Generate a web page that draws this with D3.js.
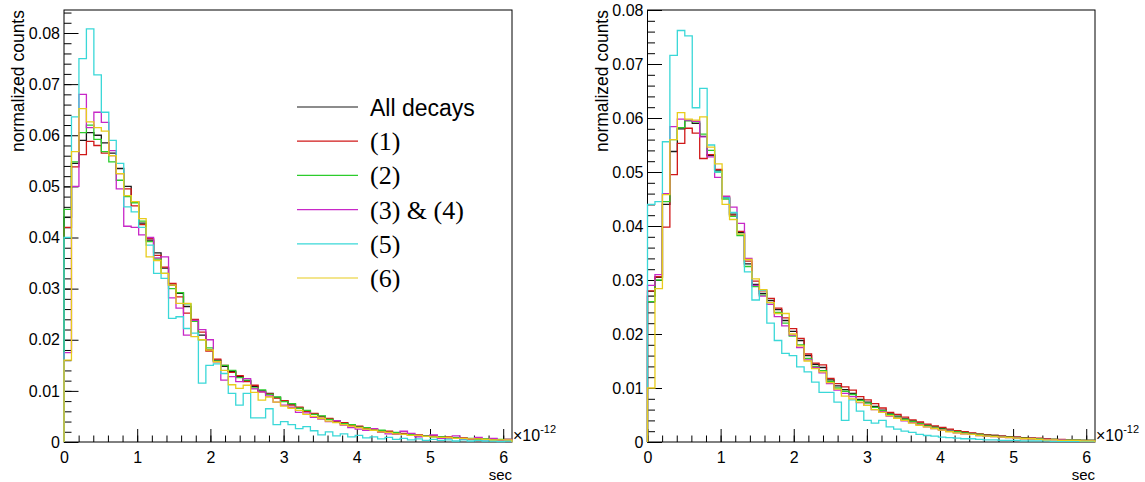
<!DOCTYPE html>
<html>
<head>
<meta charset="utf-8">
<script src="https://cdn.jsdelivr.net/npm/d3@7/dist/d3.min.js"></script>
<style>
  body { margin: 0; background: #fff; }
  svg { display: block; font-family: "Liberation Sans", Arial, sans-serif; }
</style>
</head>
<body>
<div id="chart"></div>
<script>
// 60 bins of 0.102e-12 s, from 0 to 6.12e-12 s
const nBins = 60;
const xMax = 6.12;

const seriesNames = ['All decays', '(1)', '(2)', '(3) & (4)', '(5)', '(6)'];
const seriesColors = ['#1a1a1a', '#d01818', '#2ccc2c', '#c828c8', '#3ad8d8', '#e8cc1c'];

const xTickLabels = [0, 1, 2, 3, 4, 5, 6];
const leftYTicks = [0, 0.01, 0.02, 0.03, 0.04, 0.05, 0.06, 0.07, 0.08];
const rightYTicks = [0, 0.01, 0.02, 0.03, 0.04, 0.05, 0.06, 0.07, 0.08];

// left panel
const leftAll = [0.0440,0.0545,0.0590,0.0605,0.0600,0.0585,0.0565,0.0535,0.0500,0.0470,
  0.0428,0.0395,0.0370,0.0340,0.0307,0.0291,0.0265,0.0238,0.0209,0.0180,
  0.0160,0.0148,0.0138,0.0128,0.0120,0.0109,0.0100,0.0095,0.0087,0.0080,
  0.0074,0.0067,0.0061,0.0055,0.0050,0.0045,0.0041,0.0037,0.0033,0.0030,
  0.0027,0.0024,0.0022,0.0020,0.0018,0.0016,0.0014,0.0013,0.0012,0.0011,
  0.0010,0.0009,0.0008,0.0007,0.0006,0.0006,0.0005,0.0005,0.0004,0.0004];
const left1 = [0.0420,0.0538,0.0562,0.0588,0.0580,0.0565,0.0560,0.0525,0.0495,0.0462,
  0.0425,0.0398,0.0365,0.0342,0.0310,0.0284,0.0252,0.0240,0.0215,0.0178,
  0.0162,0.0150,0.0136,0.0130,0.0118,0.0111,0.0098,0.0094,0.0086,0.0081,
  0.0072,0.0068,0.0060,0.0056,0.0049,0.0046,0.0040,0.0038,0.0032,0.0031,
  0.0026,0.0025,0.0021,0.0021,0.0017,0.0017,0.0013,0.0014,0.0011,0.0012,
  0.0009,0.0010,0.0007,0.0008,0.0006,0.0007,0.0005,0.0005,0.0004,0.0005];
const left2 = [0.0455,0.0548,0.0605,0.0620,0.0592,0.0568,0.0548,0.0512,0.0480,0.0468,
  0.0432,0.0392,0.0358,0.0330,0.0300,0.0292,0.0270,0.0236,0.0200,0.0184,
  0.0158,0.0150,0.0140,0.0126,0.0121,0.0106,0.0102,0.0093,0.0088,0.0079,
  0.0075,0.0066,0.0062,0.0054,0.0051,0.0044,0.0042,0.0036,0.0034,0.0029,
  0.0028,0.0023,0.0023,0.0019,0.0019,0.0015,0.0015,0.0012,0.0012,0.0010,
  0.0010,0.0008,0.0008,0.0006,0.0007,0.0005,0.0006,0.0004,0.0005,0.0005];
const left34 = [0.0175,0.0500,0.0680,0.0615,0.0645,0.0625,0.0570,0.0495,0.0422,0.0420,
  0.0405,0.0400,0.0360,0.0362,0.0282,0.0262,0.0209,0.0238,0.0220,0.0200,
  0.0157,0.0121,0.0128,0.0118,0.0124,0.0104,0.0098,0.0090,0.0078,0.0072,
  0.0068,0.0058,0.0057,0.0048,0.0045,0.0040,0.0042,0.0033,0.0028,0.0025,
  0.0023,0.0026,0.0019,0.0016,0.0015,0.0021,0.0017,0.0010,0.0011,0.0014,
  0.0007,0.0008,0.0012,0.0005,0.0006,0.0009,0.0004,0.0007,0.0003,0.0005];
const left5 = [0.0400,0.0636,0.0750,0.0808,0.0718,0.0645,0.0590,0.0545,0.0460,0.0450,
  0.0420,0.0385,0.0330,0.0320,0.0242,0.0245,0.0222,0.0213,0.0115,0.0150,
  0.0153,0.0134,0.0095,0.0072,0.0095,0.0047,0.0047,0.0065,0.0034,0.0040,
  0.0034,0.0026,0.0030,0.0022,0.0014,0.0020,0.0012,0.0016,0.0010,0.0013,
  0.0008,0.0010,0.0006,0.0009,0.0005,0.0007,0.0004,0.0006,0.0003,0.0005,
  0.0003,0.0004,0.0002,0.0004,0.0002,0.0003,0.0002,0.0002,0.0001,0.0002];
const left6 = [0.0160,0.0568,0.0652,0.0626,0.0615,0.0608,0.0560,0.0525,0.0482,0.0470,
  0.0437,0.0362,0.0355,0.0330,0.0307,0.0271,0.0271,0.0206,0.0200,0.0180,
  0.0157,0.0140,0.0112,0.0105,0.0111,0.0097,0.0082,0.0088,0.0078,0.0070,
  0.0066,0.0062,0.0054,0.0050,0.0046,0.0041,0.0038,0.0034,0.0031,0.0028,
  0.0025,0.0023,0.0020,0.0019,0.0016,0.0015,0.0013,0.0013,0.0011,0.0010,
  0.0009,0.0009,0.0007,0.0007,0.0006,0.0006,0.0005,0.0004,0.0004,0.0004];

// right panel
const rightAll = [0.0270,0.0305,0.0440,0.0538,0.0580,0.0595,0.0590,0.0566,0.0531,0.0502,
  0.0452,0.0422,0.0388,0.0330,0.0292,0.0275,0.0262,0.0245,0.0225,0.0205,
  0.0188,0.0160,0.0144,0.0138,0.0115,0.0104,0.0097,0.0090,0.0079,0.0074,
  0.0066,0.0059,0.0052,0.0048,0.0043,0.0039,0.0035,0.0031,0.0028,0.0025,
  0.0022,0.0020,0.0018,0.0016,0.0014,0.0013,0.0012,0.0011,0.0010,0.0009,
  0.0008,0.0007,0.0006,0.0006,0.0005,0.0004,0.0004,0.0003,0.0003,0.0003];
const right1 = [0.0280,0.0306,0.0398,0.0495,0.0553,0.0581,0.0572,0.0525,0.0532,0.0505,
  0.0455,0.0420,0.0390,0.0335,0.0298,0.0280,0.0266,0.0248,0.0230,0.0210,
  0.0192,0.0163,0.0146,0.0143,0.0118,0.0108,0.0102,0.0096,0.0084,0.0078,
  0.0071,0.0063,0.0055,0.0051,0.0046,0.0041,0.0037,0.0033,0.0030,0.0027,
  0.0024,0.0021,0.0019,0.0017,0.0015,0.0013,0.0012,0.0011,0.0010,0.0009,
  0.0008,0.0007,0.0007,0.0006,0.0005,0.0005,0.0004,0.0004,0.0003,0.0003];
const right2 = [0.0260,0.0300,0.0445,0.0560,0.0582,0.0595,0.0593,0.0570,0.0540,0.0500,
  0.0450,0.0418,0.0382,0.0325,0.0288,0.0272,0.0258,0.0240,0.0220,0.0196,
  0.0180,0.0155,0.0140,0.0132,0.0112,0.0100,0.0094,0.0088,0.0077,0.0072,
  0.0064,0.0058,0.0051,0.0046,0.0042,0.0038,0.0034,0.0030,0.0027,0.0024,
  0.0021,0.0019,0.0017,0.0015,0.0014,0.0012,0.0011,0.0010,0.0009,0.0008,
  0.0007,0.0006,0.0006,0.0005,0.0005,0.0004,0.0004,0.0004,0.0003,0.0003];
const right34 = [0.0290,0.0310,0.0460,0.0584,0.0598,0.0596,0.0594,0.0565,0.0528,0.0490,
  0.0455,0.0435,0.0405,0.0340,0.0290,0.0270,0.0255,0.0232,0.0215,0.0198,
  0.0175,0.0152,0.0138,0.0128,0.0108,0.0096,0.0090,0.0084,0.0073,0.0068,
  0.0060,0.0056,0.0048,0.0044,0.0039,0.0036,0.0032,0.0028,0.0025,0.0022,
  0.0020,0.0017,0.0015,0.0014,0.0012,0.0011,0.0010,0.0009,0.0008,0.0007,
  0.0006,0.0006,0.0005,0.0005,0.0004,0.0004,0.0003,0.0003,0.0002,0.0002];
const right5 = [0.0440,0.0445,0.0556,0.0716,0.0762,0.0752,0.0619,0.0655,0.0550,0.0500,
  0.0452,0.0425,0.0385,0.0315,0.0263,0.0281,0.0220,0.0188,0.0164,0.0160,
  0.0139,0.0130,0.0111,0.0092,0.0092,0.0074,0.0040,0.0078,0.0057,0.0040,
  0.0035,0.0040,0.0028,0.0024,0.0020,0.0018,0.0014,0.0012,0.0011,0.0009,
  0.0008,0.0007,0.0006,0.0006,0.0005,0.0004,0.0004,0.0003,0.0003,0.0003,
  0.0002,0.0002,0.0002,0.0002,0.0001,0.0001,0.0001,0.0001,0.0001,0.0001];
const right6 = [0.0100,0.0284,0.0458,0.0560,0.0610,0.0598,0.0596,0.0602,0.0546,0.0515,
  0.0440,0.0412,0.0385,0.0338,0.0302,0.0282,0.0258,0.0238,0.0238,0.0200,
  0.0178,0.0150,0.0136,0.0130,0.0110,0.0098,0.0085,0.0080,0.0074,0.0068,
  0.0060,0.0055,0.0049,0.0044,0.0040,0.0035,0.0031,0.0028,0.0025,0.0022,
  0.0019,0.0017,0.0015,0.0014,0.0012,0.0011,0.0010,0.0009,0.0008,0.0007,
  0.0006,0.0006,0.0005,0.0004,0.0004,0.0003,0.0003,0.0003,0.0002,0.0002];

const svg = d3.select('#chart').append('svg')
    .attr('width', 1145)
    .attr('height', 482);

class HistPanel {
    constructor(_config, _series) {
        this.config = {
            left: _config.left,
            top: _config.top || 10,
            width: _config.width || 448,
            height: _config.height || 432,
            yMax: _config.yMax,
            yTicks: _config.yTicks,
            legend: _config.legend || false
        };
        this.series = _series;
        this.initVis();
    }

    initVis() {
        let vis = this;
        const c = vis.config;

        vis.chart = svg.append('g')
            .attr('transform', `translate(${c.left},${c.top})`);

        vis.xScale = d3.scaleLinear().domain([0, xMax]).range([0, c.width]);
        vis.yScale = d3.scaleLinear().domain([0, c.yMax]).range([c.height, 0]);

        // minor ticks first, majors with labels on top
        const xMinor = d3.axisBottom(vis.xScale)
            .tickValues(d3.range(0, xMax, 0.2))
            .tickSize(-6.5).tickFormat('');
        const xMajor = d3.axisBottom(vis.xScale)
            .tickValues(xTickLabels)
            .tickSize(-13).tickPadding(9.5)
            .tickFormat(d3.format('d'));
        const yMinor = d3.axisLeft(vis.yScale)
            .tickValues(d3.range(0, c.yMax + 1e-9, 0.002))
            .tickSize(-7.5).tickFormat('');
        const yMajor = d3.axisLeft(vis.yScale)
            .tickValues(c.yTicks)
            .tickSize(-14.5).tickPadding(4)
            .tickFormat(d => d === 0 ? '0' : d.toFixed(2));

        [xMinor, xMajor].forEach(ax => {
            vis.chart.append('g')
                .attr('transform', `translate(0,${c.height})`)
                .call(ax);
        });
        [yMinor, yMajor].forEach(ax => {
            vis.chart.append('g').call(ax);
        });
        vis.chart.selectAll('.domain').remove();
        vis.chart.selectAll('.tick line').attr('stroke', '#000').attr('stroke-width', 1);
        vis.chart.selectAll('.tick text')
            .attr('fill', '#000')
            .style('font-size', '16px')
            .style('font-family', '"Liberation Sans", Arial, sans-serif');

        // frame
        vis.chart.append('rect')
            .attr('width', c.width)
            .attr('height', c.height)
            .attr('fill', 'none')
            .attr('stroke', '#000')
            .attr('stroke-width', 1);

        // axis titles
        vis.chart.append('text')
            .attr('transform', `translate(-40,0) rotate(-90)`)
            .attr('text-anchor', 'end')
            .style('font-size', '17.5px')
            .text('normalized counts');

        vis.chart.append('text')
            .attr('x', c.width)
            .attr('y', c.height + 38)
            .attr('text-anchor', 'end')
            .style('font-size', '15px')
            .text('sec');

        const expo = vis.chart.append('text')
            .attr('x', c.width + 1)
            .attr('y', c.height - 1)
            .style('font-size', '16px');
        expo.append('tspan').text('\u00d710');
        expo.append('tspan').attr('dy', -8).style('font-size', '11px').text('-12');
    }

    renderVis() {
        let vis = this;
        const w = xMax / nBins;

        const line = d3.line()
            .x(d => vis.xScale(d[0]))
            .y(d => vis.yScale(d[1]))
            .curve(d3.curveStepAfter);

        const stepPoints = vals => {
            const pts = [[0, 0]];
            vals.forEach((v, i) => pts.push([i * w, v]));
            pts.push([xMax, vals[vals.length - 1]]);
            pts.push([xMax, 0]);
            return pts;
        };

        vis.chart.selectAll('.hist')
            .data(vis.series)
            .join('path')
            .attr('class', 'hist')
            .attr('d', d => line(stepPoints(d)))
            .attr('fill', 'none')
            .attr('stroke', (d, i) => seriesColors[i])
            .attr('stroke-width', 1.3);

        if (vis.config.legend) {
            // legend sits in the upper right of the left panel
            const lg = svg.append('g').attr('class', 'legend');
            const rowY = i => 107 + i * 34.2;
            lg.selectAll('line')
                .data(seriesNames)
                .join('line')
                .attr('x1', 297).attr('x2', 358)
                .attr('y1', (d, i) => rowY(i)).attr('y2', (d, i) => rowY(i))
                .attr('stroke', (d, i) => seriesColors[i])
                .attr('stroke-width', 1.2);
            lg.selectAll('text')
                .data(seriesNames)
                .join('text')
                .attr('x', 370)
                .attr('y', (d, i) => rowY(i) + 9)
                .style('font-family', (d, i) => i === 0 ? '"Liberation Sans", Arial, sans-serif' : '"Liberation Serif", "Times New Roman", serif')
                .style('font-size', (d, i) => i === 0 ? '23px' : '26px')
                .text(d => d);
        }
    }
}

const leftPanel = new HistPanel(
    {left: 64, yMax: 0.0845, yTicks: leftYTicks, legend: true},
    [leftAll, left1, left2, left34, left5, left6]);
leftPanel.renderVis();

const rightPanel = new HistPanel(
    {left: 647.5, width: 447.5, yMax: 0.08, yTicks: rightYTicks},
    [rightAll, right1, right2, right34, right5, right6]);
rightPanel.renderVis();
</script>
</body>
</html>
